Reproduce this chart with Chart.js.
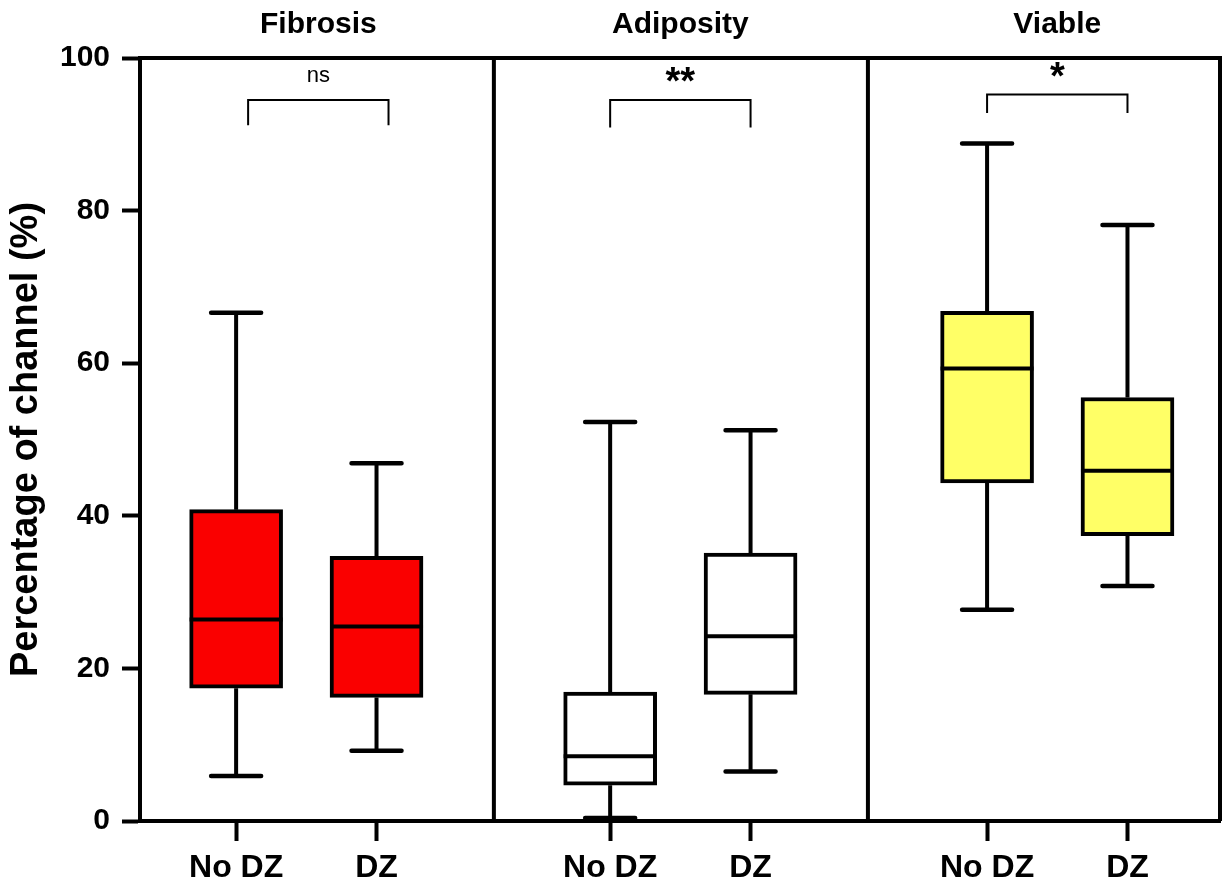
<!DOCTYPE html>
<html>
<head>
<meta charset="utf-8">
<script src="https://cdn.jsdelivr.net/npm/chart.js@4.4.1/dist/chart.umd.min.js"></script>
<style>
  html, body { margin: 0; padding: 0; background: #ffffff; }
  #wrap { width: 1222px; height: 884px; }
</style>
</head>
<body>
<div id="wrap"><canvas id="boxChart"></canvas></div>
<script>
// Data
const panels = ['Fibrosis', 'Adiposity', 'Viable'];
const groups = ['No DZ', 'DZ'];
const whiskerLow = [5.9, 9.2, 0.4, 6.5, 27.7, 30.8];
const quartile1 = [17.4, 16.2, 4.7, 16.6, 44.3, 37.4];
const medians = [26.4, 25.5, 8.5, 24.2, 59.3, 45.9];
const quartile3 = [40.8, 34.7, 16.9, 35.1, 66.8, 55.5];
const whiskerHigh = [66.6, 46.9, 52.3, 51.2, 88.8, 78.1];
const significance = ['ns', '**', '*'];
const bracketTop = [94.5, 94.5, 95.2];
const bracketFoot = [91.2, 90.9, 92.8];
const yTicks = [0, 20, 40, 60, 80, 100];

// Layout
const FONT = "'Liberation Sans', Arial, Helvetica, sans-serif";
const panelOffset = [0.267, 0.306, 0.353];
const pairGap = 0.39;
const dividers = [0.983, 2.022];
const bracketShift = [12, 0, 0]; // px, the Fibrosis bracket sits a bit right of its boxes
const panelFill = ['#fa0000', '#ffffff', '#ffff66'];
const BOX_W = 93;
const CAP_W = 50;

const boxX = [];
const boxFill = [];
panels.forEach((p, i) => {
    groups.forEach((g, j) => {
        boxX.push(i + panelOffset[i] + j * pairGap);
        boxFill.push(panelFill[i]);
    });
});

const boxParts = {
    id: 'boxParts',
    afterDatasetsDraw(chart) {
        const { ctx, chartArea: a, scales: { x, y } } = chart;
        ctx.save();
        ctx.strokeStyle = '#000';
        ctx.fillStyle = '#000';

        // frame top/right and panel dividers
        ctx.lineWidth = 4;
        ctx.lineCap = 'butt';
        ctx.beginPath();
        ctx.moveTo(a.left - 2, a.top);
        ctx.lineTo(a.right, a.top);
        ctx.lineTo(a.right, a.bottom);
        dividers.forEach(d => {
            const px = x.getPixelForValue(d);
            ctx.moveTo(px, a.top);
            ctx.lineTo(px, a.bottom);
        });
        ctx.stroke();

        // whiskers, caps, medians
        boxX.forEach((bx, i) => {
            const px = x.getPixelForValue(bx);
            ctx.lineWidth = 4;
            ctx.lineCap = 'butt';
            ctx.beginPath();
            ctx.moveTo(px, y.getPixelForValue(quartile3[i]));
            ctx.lineTo(px, y.getPixelForValue(whiskerHigh[i]));
            ctx.moveTo(px, y.getPixelForValue(quartile1[i]));
            ctx.lineTo(px, y.getPixelForValue(whiskerLow[i]));
            ctx.stroke();

            ctx.lineCap = 'round';
            ctx.lineWidth = 4.5;
            ctx.beginPath();
            [whiskerHigh[i], whiskerLow[i]].forEach(v => {
                const py = y.getPixelForValue(v);
                ctx.moveTo(px - CAP_W / 2, py);
                ctx.lineTo(px + CAP_W / 2, py);
            });
            ctx.stroke();

            ctx.lineCap = 'butt';
            ctx.lineWidth = 4;
            ctx.beginPath();
            const my = y.getPixelForValue(medians[i]);
            ctx.moveTo(px - BOX_W / 2, my);
            ctx.lineTo(px + BOX_W / 2, my);
            ctx.stroke();
        });

        // panel titles, brackets and significance marks
        panels.forEach((p, i) => {
            const x1 = x.getPixelForValue(boxX[i * 2]) + bracketShift[i];
            const x2 = x.getPixelForValue(boxX[i * 2 + 1]) + bracketShift[i];
            const mid = (x1 + x2) / 2;
            const top = y.getPixelForValue(bracketTop[i]);
            const foot = y.getPixelForValue(bracketFoot[i]);

            ctx.font = 'bold 30px ' + FONT;
            ctx.textAlign = 'center';
            ctx.textBaseline = 'middle';
            ctx.fillText(p, mid, 25);

            ctx.lineWidth = 2;
            ctx.lineCap = 'butt';
            ctx.beginPath();
            ctx.moveTo(x1, foot);
            ctx.lineTo(x1, top);
            ctx.lineTo(x2, top);
            ctx.lineTo(x2, foot);
            ctx.stroke();

            ctx.textBaseline = 'alphabetic';
            if (significance[i] === 'ns') {
                ctx.font = '22px ' + FONT;
                ctx.fillText(significance[i], mid, top - 18);
            } else {
                ctx.font = 'bold 38px ' + FONT;
                ctx.fillText(significance[i], mid, top - 6);
            }
        });
        ctx.restore();
    }
};

function initChart() {
    const ctx = document.getElementById('boxChart').getContext('2d');
    new Chart(ctx, {
        type: 'bar',
        data: {
            datasets: [{
                label: 'IQR',
                data: boxX.map((bx, i) => ({ x: bx, y: [quartile1[i], quartile3[i]] })),
                backgroundColor: boxFill,
                borderColor: '#000',
                borderWidth: 4,
                borderSkipped: false,
                barThickness: BOX_W
            }]
        },
        options: {
            responsive: true,
            maintainAspectRatio: false,
            animation: false,
            layout: { padding: { top: 58, right: 2, left: 0, bottom: 0 } },
            plugins: {
                legend: { display: false },
                tooltip: { enabled: false }
            },
            scales: {
                x: {
                    type: 'linear',
                    min: 0,
                    max: 3,
                    offset: false,
                    afterFit: s => { s.height = 63; },
                    afterBuildTicks: s => { s.ticks = boxX.map(v => ({ value: v })); },
                    grid: {
                        offset: false,
                        drawOnChartArea: false,
                        drawTicks: true,
                        tickLength: 20,
                        tickWidth: 4,
                        color: '#000'
                    },
                    border: { display: true, color: '#000', width: 4 },
                    ticks: {
                        autoSkip: false,
                        maxRotation: 0,
                        padding: 8,
                        color: '#000',
                        font: { family: FONT, size: 32, weight: 'bold' },
                        callback: (v, i) => groups[i % groups.length]
                    }
                },
                y: {
                    min: 0,
                    max: 100,
                    afterFit: s => { s.width = 140; },
                    afterBuildTicks: s => { s.ticks = yTicks.map(v => ({ value: v })); },
                    grid: {
                        drawOnChartArea: false,
                        drawTicks: true,
                        tickLength: 18,
                        tickWidth: 4,
                        color: '#000'
                    },
                    border: { display: true, color: '#000', width: 4 },
                    title: {
                        display: true,
                        text: 'Percentage of channel (%)',
                        color: '#000',
                        padding: { top: 4, bottom: 0 },
                        font: { family: FONT, size: 38, weight: 'bold' }
                    },
                    ticks: {
                        padding: 12,
                        color: '#000',
                        font: { family: FONT, size: 30, weight: 'bold' }
                    }
                }
            }
        },
        plugins: [boxParts]
    });
}

window.addEventListener('load', () => {
    initChart();
});
</script>
</body>
</html>
